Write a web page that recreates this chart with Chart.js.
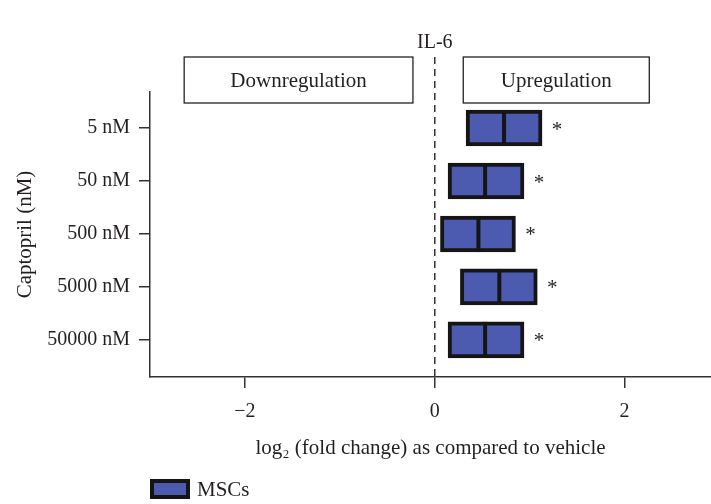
<!DOCTYPE html>
<html>
<head>
<meta charset="utf-8">
<title>IL-6</title>
<script src="https://cdn.jsdelivr.net/npm/chart.js@4"></script>
<style>
    html, body { margin: 0; padding: 0; background: #ffffff; }
    #wrap { width: 711px; height: 504px; }
</style>
</head>
<body>
<div id="wrap"><canvas id="il6Chart" width="711" height="504"></canvas></div>
<script>
// Captopril doses and log2 fold change (interval + median) for MSCs
const doses = ['5 nM', '50 nM', '500 nM', '5000 nM', '50000 nM'];
const ciLow = [0.33, 0.14, 0.06, 0.27, 0.14];
const ciHigh = [1.13, 0.94, 0.85, 1.08, 0.94];
const medians = [0.73, 0.53, 0.46, 0.68, 0.53];
const significance = ['*', '*', '*', '*', '*'];
const xTicks = [-2, 0, 2];

const FONT = "'Liberation Serif', 'Times New Roman', serif";
const INK = '#231f20';
const BAR_FILL = '#4c5aaf';
const BAR_EDGE = '#151515';
const BAR_PX = 36;

// Region label boxes (value range on x axis)
const regions = [
    { text: 'Downregulation', from: -2.64, to: -0.23 },
    { text: 'Upregulation', from: 0.30, to: 2.26 }
];

const overlayPlugin = {
    id: 'il6Overlay',
    beforeDatasetsDraw(chart) {
        const { ctx, chartArea, scales: { x } } = chart;
        const x0 = x.getPixelForValue(0);
        ctx.save();
        ctx.strokeStyle = '#333';
        ctx.lineWidth = 1.5;
        ctx.setLineDash([7, 5]);
        ctx.beginPath();
        ctx.moveTo(x0, chartArea.top - 35);
        ctx.lineTo(x0, chartArea.bottom);
        ctx.stroke();
        ctx.restore();
    },
    afterDatasetsDraw(chart) {
        const { ctx, chartArea, scales: { x, y } } = chart;
        ctx.save();

        // median divider inside each box
        ctx.strokeStyle = BAR_EDGE;
        ctx.lineWidth = 4;
        medians.forEach((m, i) => {
            const px = x.getPixelForValue(m);
            const py = y.getPixelForValue(i);
            ctx.beginPath();
            ctx.moveTo(px, py - BAR_PX / 2);
            ctx.lineTo(px, py + BAR_PX / 2);
            ctx.stroke();
        });

        // significance marks next to each bar
        ctx.fillStyle = INK;
        ctx.font = '21px ' + FONT;
        ctx.textAlign = 'center';
        ctx.textBaseline = 'middle';
        significance.forEach((s, i) => {
            ctx.fillText(s, x.getPixelForValue(ciHigh[i]) + 15, y.getPixelForValue(i) + 2);
        });

        // region boxes above the plot
        const top = chartArea.top - 35;
        const h = 46;
        ctx.font = '21px ' + FONT;
        regions.forEach(r => {
            const l = x.getPixelForValue(r.from);
            const w = x.getPixelForValue(r.to) - l;
            ctx.fillStyle = '#ffffff';
            ctx.fillRect(l, top, w, h);
            ctx.strokeStyle = '#222';
            ctx.lineWidth = 1.3;
            ctx.strokeRect(l, top, w, h);
            ctx.fillStyle = INK;
            ctx.fillText(r.text, l + w / 2, top + h / 2 + 1);
        });

        // plot title
        ctx.font = '20px ' + FONT;
        ctx.fillText('IL-6', x.getPixelForValue(0), chartArea.top - 49);

        // legend
        const ds = chart.data.datasets[0];
        const lx = chartArea.left + 2, ly = 481;
        ctx.fillStyle = ds.backgroundColor;
        ctx.fillRect(lx, ly, 36, 16);
        ctx.strokeStyle = ds.borderColor;
        ctx.lineWidth = 4;
        ctx.strokeRect(lx, ly, 36, 16);
        ctx.fillStyle = INK;
        ctx.textAlign = 'left';
        ctx.font = '21px ' + FONT;
        ctx.fillText(ds.label, lx + 45, ly + 9);

        ctx.restore();
    }
};

const axisLines = {
    display: true,
    drawOnChartArea: false,
    drawTicks: true,
    tickLength: 11,
    offset: false,
    color: '#333',
    lineWidth: 1.5
};

new Chart(document.getElementById('il6Chart').getContext('2d'), {
    type: 'bar',
    data: {
        datasets: [{
            label: 'MSCs',
            data: doses.map((d, i) => ({ x: [ciLow[i], ciHigh[i]], y: i })),
            backgroundColor: BAR_FILL,
            borderColor: BAR_EDGE,
            borderWidth: 4,
            borderSkipped: false,
            barThickness: BAR_PX
        }]
    },
    options: {
        indexAxis: 'y',
        responsive: false,
        animation: false,
        layout: { padding: { top: 92, right: 0, bottom: 40, left: 0 } },
        plugins: {
            legend: { display: false },
            tooltip: { enabled: false },
            title: { display: false }
        },
        scales: {
            x: {
                type: 'linear',
                position: 'bottom',
                min: -3,
                max: 2.91,
                afterBuildTicks: s => { s.ticks = xTicks.map(v => ({ value: v })); },
                afterFit: s => { s.height = 87; },
                grid: axisLines,
                border: { display: true, color: '#333', width: 1.5 },
                ticks: {
                    color: INK,
                    padding: 12,
                    font: { family: FONT, size: 20 },
                    callback: v => (v < 0 ? '\u2212' + Math.abs(v) : String(v))
                },
                title: {
                    display: true,
                    text: 'log\u2082 (fold change) as compared to vehicle',
                    color: INK,
                    font: { family: FONT, size: 21 },
                    padding: { top: 0, bottom: 3 }
                }
            },
            y: {
                type: 'linear',
                position: 'left',
                reverse: true,
                offset: false,
                min: -0.68,
                max: 4.70,
                afterBuildTicks: s => { s.ticks = doses.map((d, i) => ({ value: i })); },
                afterFit: s => { s.width = 150; },
                grid: axisLines,
                border: { display: true, color: '#333', width: 1.5 },
                ticks: {
                    color: INK,
                    padding: 9,
                    font: { family: FONT, size: 20 },
                    callback: v => doses[v]
                },
                title: {
                    display: true,
                    text: 'Captopril (nM)',
                    color: INK,
                    font: { family: FONT, size: 21 },
                    padding: { top: 13, bottom: 0 }
                }
            }
        }
    },
    plugins: [overlayPlugin]
});
</script>
</body>
</html>
